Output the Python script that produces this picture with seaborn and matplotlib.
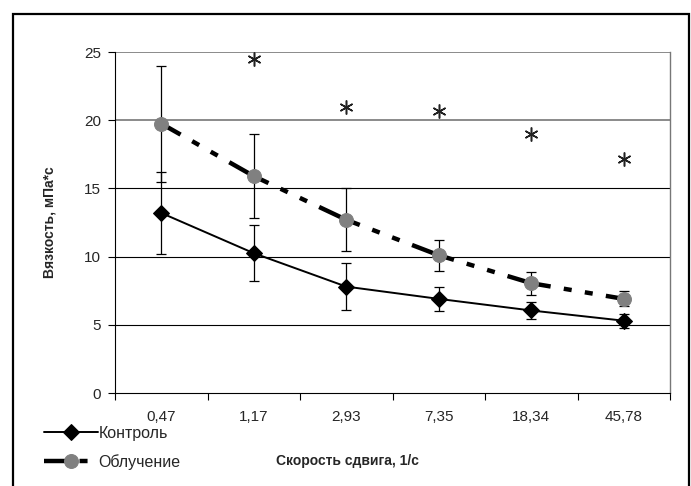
import numpy as np
import pandas as pd
import matplotlib.pyplot as plt
import matplotlib.patches as mpatches
import seaborn as sns

shear = ["0,47", "1,17", "2,93", "7,35", "18,34", "45,78"]
control = [13.2, 10.25, 7.8, 6.9, 6.05, 5.3]
control_err = [3.0, 2.05, 1.7, 0.9, 0.65, 0.5]
irrad = [19.75, 15.9, 12.7, 10.1, 8.05, 6.9]
irrad_err = [4.25, 3.1, 2.3, 1.15, 0.85, 0.55]
# significance marks (no mark at the first rate)
star_y = [np.nan, 24.5, 21.0, 20.7, 19.0, 17.15]

sns.set_style("white")
plt.rcParams["font.family"] = ["Liberation Sans", "DejaVu Sans"]

pos = np.arange(len(shear)) + 0.5
df = pd.DataFrame({"x": np.concatenate([pos, pos]),
                   "y": control + irrad,
                   "grp": ["Контроль"] * 6 + ["Облучение"] * 6})

fig = plt.figure(figsize=(6.91, 4.86), dpi=100)
ax = fig.add_axes([115 / 691, 1 - 393 / 486, 555 / 691, 341 / 486])

# grid
for v in [5, 10, 15]:
    ax.axhline(v, color="black", lw=0.8, zorder=0)
for v in [20, 25]:
    ax.axhline(v, color="#777777", lw=1.2, zorder=0)

ax.errorbar(pos, control, yerr=control_err, fmt="none", ecolor="black", elinewidth=0.9, capsize=3.8, capthick=0.9, zorder=2)
ax.errorbar(pos, irrad, yerr=irrad_err, fmt="none", ecolor="black", elinewidth=0.9, capsize=3.8, capthick=0.9, zorder=2)

sns.lineplot(data=df[df.grp == "Контроль"], x="x", y="y", ax=ax, color="black", lw=1.4,
             marker="D", markersize=8, markeredgecolor="black", markerfacecolor="black", label="Контроль", zorder=3)
sns.lineplot(data=df[df.grp == "Облучение"], x="x", y="y", ax=ax, color="black", lw=3.2,
             dashes=False, marker="o", markersize=10, markeredgecolor="#808080", markerfacecolor="#808080",
             label="Облучение", zorder=3)
ax.lines[-1].set_linestyle((5, [10, 3, 1.8, 3, 1.8, 3]))

ax.plot(pos, star_y, ls="none", marker=(6, 2, 0), markersize=10, mew=1.1, color="#222222", zorder=4)

ax.set_xlim(0, 6)
ax.set_ylim(0, 25)
ax.set_yticks([0, 5, 10, 15, 20, 25])
ax.set_xticks(np.arange(7))
ax.set_xticklabels([])
ax.set_xticks(pos, minor=True)
ax.set_xticklabels(shear, minor=True)
ax.tick_params(axis="x", which="major", direction="out", length=5, width=0.8, color="black", bottom=True)
ax.tick_params(axis="x", which="minor", length=0, pad=12, labelsize=11)
ax.tick_params(axis="y", direction="out", length=5, width=0.8, color="black", left=True, labelsize=11, pad=5)

for side in ["left", "bottom"]:
    ax.spines[side].set_color("black")
    ax.spines[side].set_linewidth(0.8)
ax.spines["right"].set_color("#777777")
ax.spines["top"].set_visible(False)
ax.spines["right"].set_linewidth(1.0)

ax.set_xlabel("")
ax.set_ylabel("Вязкость, мПа*с", fontsize=10, fontweight="bold", labelpad=20)
fig.text(347 / 691, 1 - 461 / 486, "Скорость сдвига, 1/с", ha="center", va="center",
         fontsize=10, fontweight="bold")

leg = ax.legend(loc="upper left", bbox_to_anchor=(44 / 691, 1 - 426 / 486), bbox_transform=fig.transFigure,
                frameon=False, fontsize=11.5, handlelength=3.4, handletextpad=0.0, labelspacing=0.8,
                borderpad=0, borderaxespad=0)

fig.patches.append(mpatches.Rectangle((13 / 691, -0.05), (689 - 13) / 691, 1.05 - 14 / 486,
                                      transform=fig.transFigure, fill=False, ec="black", lw=1.6))

fig.savefig("out.png", dpi=100)
